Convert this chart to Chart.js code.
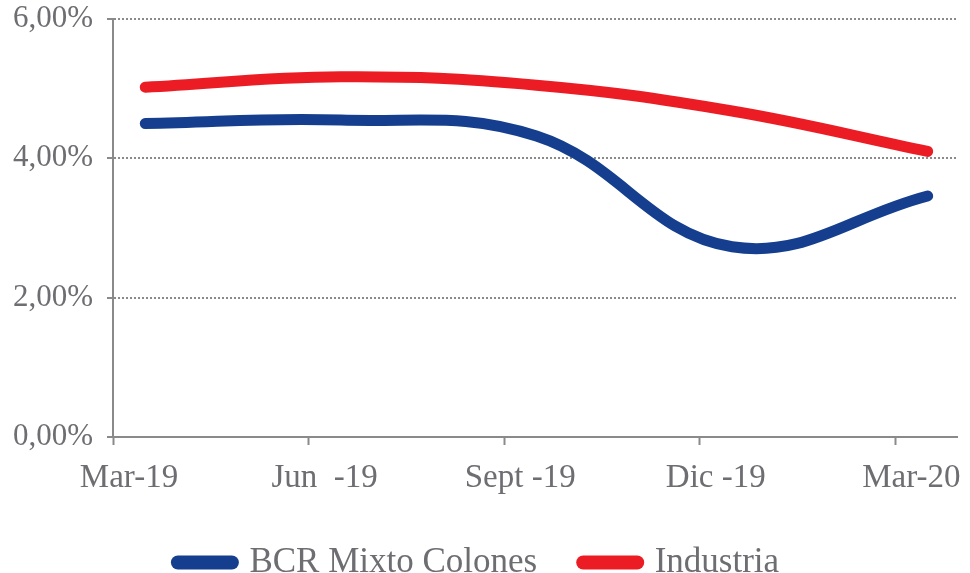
<!DOCTYPE html>
<html>
<head>
<meta charset="utf-8">
<script src="https://cdn.jsdelivr.net/npm/chart.js@4/dist/chart.umd.min.js"></script>
<style>
    html, body { margin: 0; padding: 0; background: #fff; }
    #wrap { width: 970px; height: 573px; }
</style>
</head>
<body>
<div id="wrap"><canvas id="rendChart" width="970" height="573"></canvas></div>
<script>
// Datos del gráfico (rendimiento trimestral)
const periodos = ['Mar-19', 'Jun  -19', 'Sept -19', 'Dic -19', 'Mar-20'];
const bcrMixto = [4.50, 4.55, 4.32, 2.73, 3.46];
const industria = [5.02, 5.17, 5.05, 4.68, 4.10];
const yTicks = [0, 2, 4, 6];

const gris = '#8a8a8a';
const texto = '#6d6d72';
const fuente = "'Liberation Serif', 'Times New Roman', serif";

// los puntos caen un poco a la derecha de cada marca del eje
const desfase = 0.165;

function toPoints(values) {
    return values.map((v, i) => ({ x: i, y: v }));
}

const ctx = document.getElementById('rendChart');

new Chart(ctx, {
    type: 'line',
    data: {
        datasets: [{
            label: 'BCR Mixto Colones',
            data: toPoints(bcrMixto),
            borderColor: '#153f8e',
            backgroundColor: '#153f8e',
            borderWidth: 11,
            borderCapStyle: 'round',
            borderJoinStyle: 'round',
            pointRadius: 0,
            tension: 0.4
        }, {
            label: 'Industria',
            data: toPoints(industria),
            borderColor: '#ec1c24',
            backgroundColor: '#ec1c24',
            borderWidth: 11,
            borderCapStyle: 'round',
            borderJoinStyle: 'round',
            pointRadius: 0,
            tension: 0.4
        }]
    },
    options: {
        responsive: false,
        animation: false,
        layout: {
            padding: { top: 19, right: 13, left: 0, bottom: 0 }
        },
        plugins: {
            tooltip: { enabled: false },
            legend: {
                position: 'bottom',
                maxHeight: 74,
                labels: {
                    usePointStyle: true,
                    pointStyle: 'line',
                    pointStyleWidth: 54,
                    padding: 46,
                    color: texto,
                    font: { family: fuente, size: 35 },
                    generateLabels: function(chart) {
                        const items = Chart.defaults.plugins.legend.labels.generateLabels(chart);
                        items.forEach(item => {
                            item.lineCap = 'round';
                            item.lineWidth = 14;
                        });
                        return items;
                    }
                }
            }
        },
        scales: {
            x: {
                type: 'linear',
                min: -desfase,
                max: periodos.length - 1 + 0.15,
                afterBuildTicks: function(scale) {
                    scale.ticks = periodos.map((p, i) => ({ value: i - desfase }));
                },
                afterFit: function(scale) {
                    scale.height = 62;
                },
                ticks: {
                    autoSkip: false,
                    maxRotation: 0,
                    labelOffset: 16,
                    padding: 14,
                    color: texto,
                    font: { family: fuente, size: 33 },
                    callback: function(value, index) {
                        return periodos[index];
                    }
                },
                grid: {
                    drawOnChartArea: false,
                    drawTicks: true,
                    tickLength: 8,
                    tickWidth: 2,
                    tickColor: gris,
                    color: gris
                },
                border: { color: gris, width: 2 }
            },
            y: {
                min: 0,
                max: 6,
                afterBuildTicks: function(scale) {
                    scale.ticks = yTicks.map(v => ({ value: v }));
                },
                afterFit: function(scale) {
                    scale.width = 113;
                    scale.paddingTop = 0;
                    scale.paddingBottom = 0;
                },
                ticks: {
                    padding: 14,
                    color: texto,
                    font: { family: fuente, size: 31 },
                    callback: function(value) {
                        return value.toFixed(2).replace('.', ',') + '%';
                    }
                },
                grid: {
                    color: function(c) {
                        return c.tick && c.tick.value === 0 ? 'rgba(0,0,0,0)' : gris;
                    },
                    lineWidth: 2,
                    tickLength: 6,
                    tickWidth: 2,
                    tickColor: gris
                },
                border: { color: gris, width: 2, dash: [2, 2] }
            }
        }
    }
});
</script>
</body>
</html>
